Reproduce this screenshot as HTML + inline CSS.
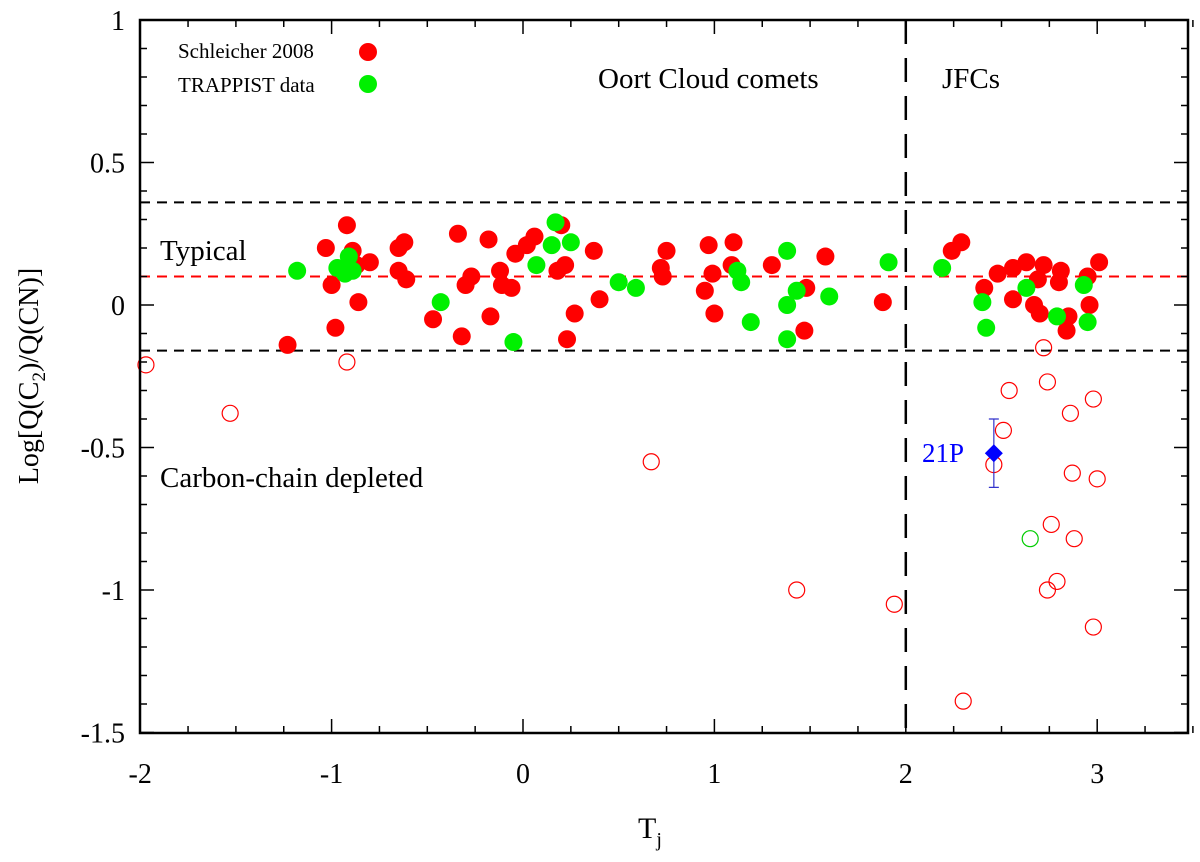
<!DOCTYPE html>
<html><head><meta charset="utf-8"><style>
html,body{margin:0;padding:0;background:#fff;}
svg text{font-family:"Liberation Serif",serif;}
</style></head><body>
<svg id="chart" width="1200" height="857" xmlns="http://www.w3.org/2000/svg">
<g id="grid"></g>
<g id="marks"></g>
<g id="axes"></g>
</svg>
<script>
const xTicks=[-2,-1,0,1,2,3];
const yTicks=[1,0.5,0,-0.5,-1,-1.5];
const yTickLabels=["1","0.5","0","-0.5","-1","-1.5"];
const redX=[-1.23,-1.03,-0.98,-1.00,-0.92,-0.89,-0.86,-0.80,-0.87,-0.65,-0.62,-0.65,-0.61,-0.47,-0.34,-0.32,-0.30,-0.27,-0.18,-0.17,-0.12,-0.11,-0.06,-0.04,0.02,0.06,0.18,0.20,0.22,0.23,0.27,0.40,0.37,0.75,0.72,0.73,0.95,0.97,0.99,1.00,1.09,1.10,1.30,1.47,1.58,1.48,1.88,2.24,2.29,2.41,2.48,2.56,2.63,2.72,2.69,2.56,2.67,2.70,2.81,2.80,2.85,2.84,2.95,2.96,3.01];
const redY=[-0.14,0.20,-0.08,0.07,0.28,0.19,0.01,0.15,0.14,0.12,0.22,0.20,0.09,-0.05,0.25,-0.11,0.07,0.10,0.23,-0.04,0.12,0.07,0.06,0.18,0.21,0.24,0.12,0.28,0.14,-0.12,-0.03,0.02,0.19,0.19,0.13,0.10,0.05,0.21,0.11,-0.03,0.14,0.22,0.14,-0.09,0.17,0.06,0.01,0.19,0.22,0.06,0.11,0.13,0.15,0.14,0.09,0.02,0.00,-0.03,0.12,0.08,-0.04,-0.09,0.10,0.00,0.15];
const greenX=[-1.18,-0.97,-0.91,-0.89,-0.93,-0.43,-0.05,0.07,0.15,0.17,0.25,0.50,0.59,1.12,1.14,1.19,1.38,1.38,1.43,1.38,1.60,1.91,2.19,2.40,2.42,2.63,2.79,2.93,2.95];
const greenY=[0.12,0.13,0.17,0.12,0.11,0.01,-0.13,0.14,0.21,0.29,0.22,0.08,0.06,0.12,0.08,-0.06,0.19,0.00,0.05,-0.12,0.03,0.15,0.13,0.01,-0.08,0.06,-0.04,0.07,-0.06];
const openRedX=[-1.97,-1.53,-0.92,0.67,1.43,1.94,2.30,2.46,2.51,2.54,2.72,2.74,2.86,2.98,2.87,3.00,2.88,2.76,2.79,2.74,2.98];
const openRedY=[-0.21,-0.38,-0.20,-0.55,-1.00,-1.05,-1.39,-0.56,-0.44,-0.30,-0.15,-0.27,-0.38,-0.33,-0.59,-0.61,-0.82,-0.77,-0.97,-1.00,-1.13];
const openGreenX=[2.65];
const openGreenY=[-0.82];
const cometX=[2.46];
const cometY=[-0.52];
const cometErrLow=[-0.64];
const cometErrHigh=[-0.40];

const L=140,R=1188,T=20,B=733;
const sx=v=>523+(v)*191.4;
const sy=v=>305-(v)*285;
const NS="http://www.w3.org/2000/svg";
function mk(parent,tag,attrs){const e=document.createElementNS(NS,tag);for(const k in attrs)e.setAttribute(k,attrs[k]);document.getElementById(parent).appendChild(e);return e;}

// reference lines
let e;
e=mk('grid','line',{x1:L,x2:R,y1:sy(0.36),y2:sy(0.36),stroke:'#000','stroke-width':2,'stroke-dasharray':'10,7'});


e=mk('grid','line',{x1:L,x2:R,y1:sy(0.10),y2:sy(0.10),stroke:'#f00','stroke-width':2,'stroke-dasharray':'10,7'});


e=mk('grid','line',{x1:L,x2:R,y1:sy(-0.16),y2:sy(-0.16),stroke:'#000','stroke-width':2,'stroke-dasharray':'10,7'});


e=mk('grid','line',{x1:sx(2),x2:sx(2),y1:T,y2:B,stroke:'#000','stroke-width':2.5,'stroke-dasharray':'24,14'});



for(let i=0;i<openRedX.length;i++){
 e=mk('marks','circle',{cx:sx(openRedX[i]),cy:sy(openRedY[i]),r:8,fill:'none',stroke:'#f00','stroke-width':1.2});
 
 
}
for(let i=0;i<openGreenX.length;i++){
 e=mk('marks','circle',{cx:sx(openGreenX[i]),cy:sy(openGreenY[i]),r:8,fill:'none',stroke:'#0c0','stroke-width':1.2});
 
 
}
for(let i=0;i<redX.length;i++){
 e=mk('marks','circle',{cx:sx(redX[i]),cy:sy(redY[i]),r:9,fill:'#f00'});
 
 
}
for(let i=0;i<greenX.length;i++){
 e=mk('marks','circle',{cx:sx(greenX[i]),cy:sy(greenY[i]),r:9,fill:'#00f000'});
 
 
}
for(let i=0;i<cometX.length;i++){
 const cx=sx(cometX[i]),cy=sy(cometY[i]);
 e=mk('marks','path',{d:`M${cx},${sy(cometErrHigh[i])}V${sy(cometErrLow[i])}M${cx-5},${sy(cometErrHigh[i])}H${cx+5}M${cx-5},${sy(cometErrLow[i])}H${cx+5}`,stroke:'#33c','stroke-width':1.2,fill:'none'});
 
 
 e=mk('marks','path',{d:`M${cx},${cy-9}L${cx+9},${cy}L${cx},${cy+9}L${cx-9},${cy}Z`,fill:'#00f'});
 
 
}

// axes frame
e=mk('axes','rect',{x:L,y:T,width:R-L,height:B-T,fill:'none',stroke:'#000','stroke-width':2.5});


for(let v=-2;v<=3.5001;v+=0.25){
 const major=Math.abs(v-Math.round(v))<1e-6;const len=major?14:7;
 e=mk('axes','path',{d:`M${sx(v)},${B}v${-len}M${sx(v)},${T}v${len}`,stroke:'#000','stroke-width':1.5});
 
 
}
for(let v=-1.5;v<=1.0001;v+=0.1){
 const major=Math.abs(v*2-Math.round(v*2))<1e-6;const len=major?14:7;
 e=mk('axes','path',{d:`M${L},${sy(v)}h${len}M${R},${sy(v)}h${-len}`,stroke:'#000','stroke-width':1.5});
 
 
}
xTicks.forEach(v=>{
 e=mk('axes','text',{x:sx(v),y:783,'font-size':28,'text-anchor':'middle'});e.textContent=String(v);
 
 
});
yTicks.forEach((v,i)=>{
 e=mk('axes','text',{x:125,y:sy(v)+10,'font-size':28,'text-anchor':'end'});e.textContent=yTickLabels[i];
 
 
});
</script>
<svg style="position:absolute;left:0;top:0" width="1200" height="857" xmlns="http://www.w3.org/2000/svg">
<text x="650" y="838" font-size="30" text-anchor="middle" font-family="Liberation Serif,serif">T<tspan font-size="20" dy="8">j</tspan></text>
<text transform="translate(38,376) rotate(-90)" font-size="28" text-anchor="middle" font-family="Liberation Serif,serif">Log[Q(C<tspan font-size="19" dy="7">2</tspan><tspan dy="-7">)/Q(CN)]</tspan></text>
<text x="178" y="58" font-size="21" font-family="Liberation Serif,serif">Schleicher 2008</text>
<circle cx="368" cy="52" r="9" fill="#f00"/>
<text x="178" y="92" font-size="21" font-family="Liberation Serif,serif">TRAPPIST data</text>
<circle cx="368" cy="84" r="9" fill="#00f000"/>
<text x="598" y="88" font-size="29" font-family="Liberation Serif,serif">Oort Cloud comets</text>
<text x="942" y="88" font-size="29" font-family="Liberation Serif,serif">JFCs</text>
<text x="160" y="260" font-size="29" font-family="Liberation Serif,serif">Typical</text>
<text x="160" y="487" font-size="29" font-family="Liberation Serif,serif">Carbon-chain depleted</text>
<text x="922" y="462" font-size="27" fill="#00f" font-family="Liberation Serif,serif">21P</text>
</svg>
</body></html>
